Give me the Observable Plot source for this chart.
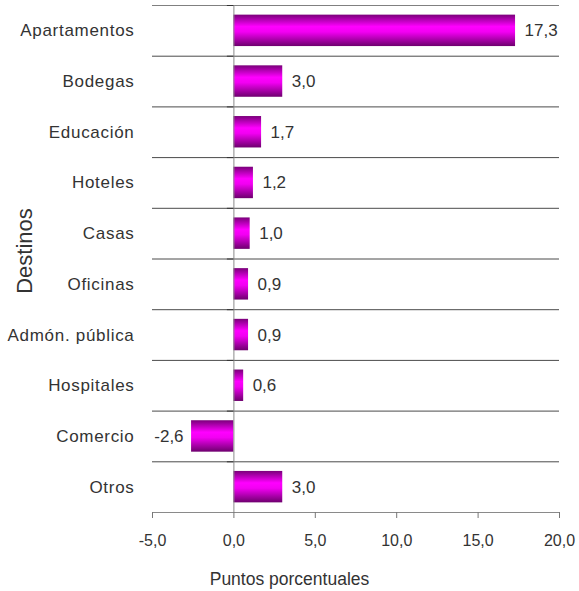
<!DOCTYPE html>
<html>
<head>
<meta charset="utf-8">
<script src="https://cdn.jsdelivr.net/npm/d3@7"></script>
<script src="https://cdn.jsdelivr.net/npm/@observablehq/plot@0.6"></script>
<style>
  html, body { margin: 0; padding: 0; background: white; }
  #chart svg { display: block; }
</style>
</head>
<body>
<div id="chart"></div>
<script>
const categories = ["Apartamentos", "Bodegas", "Educación", "Hoteles", "Casas", "Oficinas", "Admón. pública", "Hospitales", "Comercio", "Otros"];
const values = [17.3, 3.0, 1.7, 1.2, 1.0, 0.9, 0.9, 0.6, -2.6, 3.0];
const xTicks = [-5, 0, 5, 10, 15, 20];
const yTitle = "Destinos";
const xTitle = "Puntos porcentuales";

const data = categories.map((name, i) => ({name, value: values[i], row: i}));
const fmt = v => v.toFixed(1).replace(".", ",");
const rows = d3.range(categories.length);

const chart = Plot.plot({
  width: 579,
  height: 591,
  marginLeft: 152,
  marginRight: 20,
  marginTop: 5,
  marginBottom: 79,
  style: {fontFamily: "'Liberation Sans', Arial, sans-serif", color: "#333", background: "white", overflow: "visible"},
  x: {domain: [-5, 20], label: null},
  y: {domain: [0, categories.length], reverse: true, label: null},
  marks: [
    Plot.ruleY(d3.range(1, categories.length), {x1: -5, x2: 20, stroke: "#4a4a4a", strokeWidth: 1}),
    Plot.ruleY([0], {x1: -5, x2: 20, stroke: "#808080", strokeWidth: 1}),
    Plot.rect(data, {x1: 0, x2: "value", y1: d => d.row + 0.19, y2: d => d.row + 0.81, fill: "url(#barGrad)"}),
    Plot.ruleX([0], {y1: 0, y2: categories.length, stroke: "#8a8a8a", strokeWidth: 1}),
    Plot.ruleY(d3.range(0, categories.length + 1), {x1: -0.4, x2: 0, stroke: "#333"}),
    Plot.ruleY([categories.length], {x1: -5, x2: 20, stroke: "#8a8a8a", strokeWidth: 1.2}),
    Plot.axisX({ticks: xTicks, tickFormat: fmt, tickSize: 6, tickPadding: 16, fontSize: 16, stroke: "#777", label: null}),
    Plot.axisY({ticks: rows.map(i => i + 0.5), tickFormat: t => categories[Math.floor(t)], tickSize: 0, tickPadding: 18, fontSize: 17, label: null}),
    Plot.text(data.filter(d => d.value >= 0), {x: "value", y: d => d.row + 0.5, text: d => fmt(d.value), textAnchor: "start", dx: 9, fontSize: 17, fill: "#333"}),
    Plot.text(data.filter(d => d.value < 0), {x: "value", y: d => d.row + 0.5, text: d => fmt(d.value), textAnchor: "end", dx: -8, fontSize: 17, fill: "#333"})
  ]
});

const svg = d3.select(chart);
svg.insert("defs", ":first-child").html(`
  <linearGradient id="barGrad" x1="0" y1="0" x2="0" y2="1">
    <stop offset="0" stop-color="#7a007a"/>
    <stop offset="0.38" stop-color="#ff00ff"/>
    <stop offset="0.55" stop-color="#f200f2"/>
    <stop offset="1" stop-color="#6e006e"/>
  </linearGradient>`);

svg.selectAll("g[aria-label='y-axis tick label'] text").attr("letter-spacing", "0.7px");

svg.append("text")
  .attr("transform", "translate(32,251) rotate(-90)")
  .attr("text-anchor", "middle")
  .attr("font-size", 22)
  .attr("fill", "#333")
  .text(yTitle);

svg.append("text")
  .attr("x", 289.5)
  .attr("y", 585)
  .attr("text-anchor", "middle")
  .attr("font-size", 17.5)
  .attr("fill", "#333")
  .text(xTitle);

document.getElementById("chart").appendChild(chart);
</script>
</body>
</html>
